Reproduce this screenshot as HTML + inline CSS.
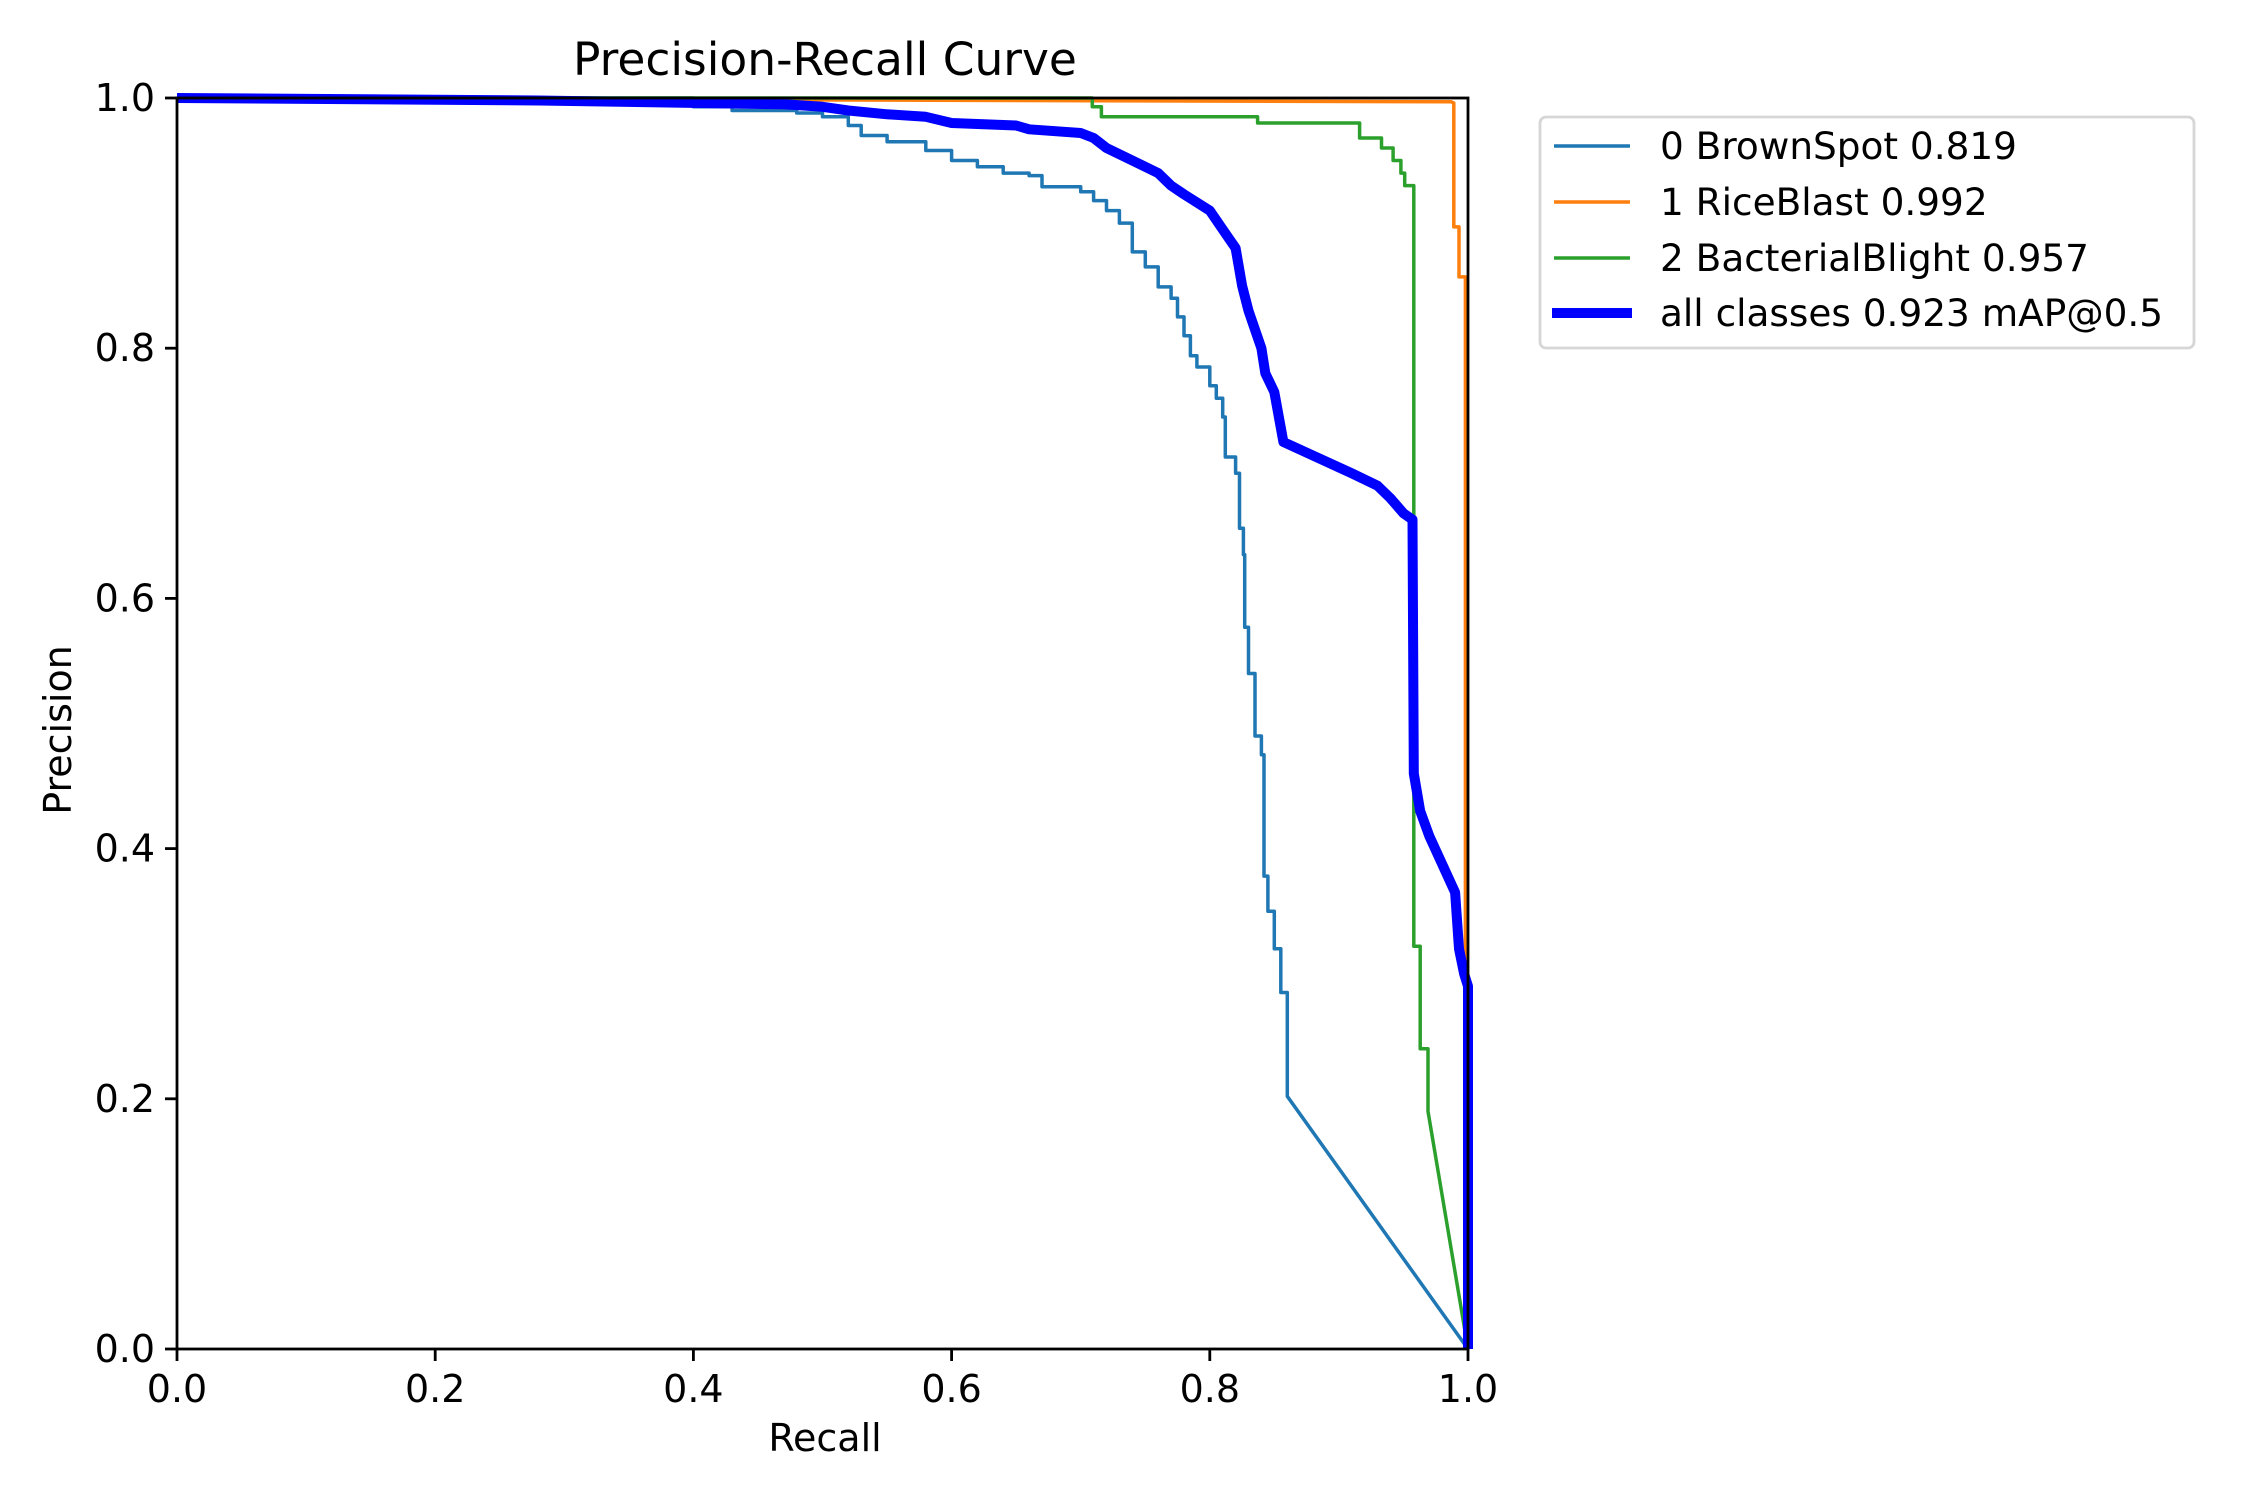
<!DOCTYPE html>
<html><head><meta charset="utf-8"><style>
html,body{margin:0;padding:0;background:#fff;}
svg{display:block;font-family:"DejaVu Sans","Liberation Sans",sans-serif;}
</style></head><body>
<svg id="chart" width="2250" height="1500" viewBox="0 0 2250 1500" xmlns="http://www.w3.org/2000/svg">
<rect width="2250" height="1500" fill="#fff"/>
<g id="series"></g>
<g id="axes"></g>
<text x="825" y="75" font-size="45.5" text-anchor="middle">Precision-Recall Curve</text>
<text x="825" y="1451" font-size="38" text-anchor="middle">Recall</text>
<text x="0" y="0" font-size="38" text-anchor="middle" transform="translate(71,730) rotate(-90)">Precision</text>
<g transform="translate(-8,0)">
<rect x="1548" y="117" width="654" height="231" rx="6" fill="#fff" stroke="#d6d6d6" stroke-width="2.8"/>
<g><line x1="1562" y1="146" x2="1638" y2="146" stroke="#1f77b4" stroke-width="3.5"/><text x="1668" y="159" font-size="37.4">0 BrownSpot 0.819</text></g>
<g><line x1="1562" y1="202" x2="1638" y2="202" stroke="#ff7f0e" stroke-width="3.5"/><text x="1668" y="215" font-size="37.4">1 RiceBlast 0.992</text></g>
<g><line x1="1562" y1="258" x2="1638" y2="258" stroke="#2ca02c" stroke-width="3.5"/><text x="1668" y="271" font-size="37.4">2 BacterialBlight 0.957</text></g>
<g><line x1="1560" y1="313" x2="1640" y2="313" stroke="#0000ff" stroke-width="10"/><text x="1668" y="326" font-size="37.4">all classes 0.923 mAP@0.5</text></g>
</g>
</svg>
<script>
const xTicks = [0.0, 0.2, 0.4, 0.6, 0.8, 1.0];
const yTicks = [0.0, 0.2, 0.4, 0.6, 0.8, 1.0];
const brownRecall = [0,0.4,0.4,0.43,0.43,0.48,0.48,0.5,0.5,0.52,0.52,0.53,0.53,0.55,0.55,0.58,0.58,0.6,0.6,0.62,0.62,0.64,0.64,0.66,0.66,0.67,0.67,0.7,0.7,0.71,0.71,0.72,0.72,0.73,0.73,0.74,0.74,0.75,0.75,0.76,0.76,0.77,0.77,0.775,0.775,0.78,0.78,0.785,0.785,0.79,0.79,0.80,0.80,0.805,0.805,0.81,0.81,0.812,0.812,0.82,0.82,0.823,0.823,0.826,0.826,0.827,0.827,0.83,0.83,0.835,0.835,0.84,0.84,0.842,0.842,0.845,0.845,0.85,0.85,0.855,0.855,0.86,0.86,1.0];
const brownPrecision = [1,1,0.993,0.993,0.99,0.99,0.988,0.988,0.985,0.985,0.978,0.978,0.97,0.97,0.965,0.965,0.958,0.958,0.95,0.95,0.945,0.945,0.94,0.94,0.938,0.938,0.929,0.929,0.925,0.925,0.918,0.918,0.91,0.91,0.9,0.9,0.877,0.877,0.865,0.865,0.849,0.849,0.84,0.84,0.825,0.825,0.81,0.81,0.794,0.794,0.785,0.785,0.77,0.77,0.76,0.76,0.745,0.745,0.713,0.713,0.70,0.70,0.656,0.656,0.635,0.635,0.577,0.577,0.54,0.54,0.49,0.49,0.475,0.475,0.378,0.378,0.35,0.35,0.32,0.32,0.285,0.285,0.202,0.0];
const riceRecall = [0,0.987,0.989,0.989,0.993,0.993,0.998,0.998,1.0];
const ricePrecision = [1,0.997,0.996,0.897,0.897,0.857,0.857,0.3,0.0];
const blightRecall = [0,0.709,0.709,0.716,0.716,0.837,0.837,0.916,0.916,0.933,0.933,0.942,0.942,0.948,0.948,0.951,0.951,0.958,0.958,0.963,0.963,0.969,0.969,1.0];
const blightPrecision = [1,1,0.993,0.993,0.985,0.985,0.98,0.98,0.968,0.968,0.96,0.96,0.95,0.95,0.94,0.94,0.93,0.93,0.322,0.322,0.24,0.24,0.19,0.0];
const allRecall = [0,0.28,0.47,0.5,0.52,0.55,0.58,0.6,0.65,0.66,0.7,0.71,0.72,0.74,0.76,0.77,0.78,0.8,0.81,0.82,0.825,0.83,0.84,0.843,0.85,0.857,0.91,0.93,0.94,0.95,0.957,0.958,0.963,0.97,0.99,0.993,0.997,1.0,1.0];
const allPrecision = [1,0.998,0.995,0.993,0.99,0.987,0.985,0.98,0.978,0.975,0.972,0.968,0.96,0.95,0.94,0.93,0.923,0.91,0.895,0.88,0.85,0.83,0.80,0.78,0.765,0.725,0.70,0.69,0.68,0.668,0.663,0.46,0.43,0.41,0.365,0.32,0.30,0.29,0.0];

const L=177, R=1468, T=98, B=1349;
const sx = v => L + v*(R-L);
const sy = v => B - v*(B-T);
const NS='http://www.w3.org/2000/svg';
function mk(tag, parent){const e=document.createElementNS(NS,tag);parent.appendChild(e);return e;}
const series=document.getElementById('series');
function drawSeries(xs, ys, color, w, name){
  const p=mk('polyline',series);
  p.setAttribute('points', xs.map((x,i)=>sx(x).toFixed(1)+','+sy(ys[i]).toFixed(1)).join(' '));
  p.setAttribute('fill','none');p.setAttribute('stroke',color);p.setAttribute('stroke-width',w);
  p.setAttribute('stroke-linejoin','round');
  
  
}
drawSeries(brownRecall, brownPrecision, '#1f77b4', 3.5, 'brownspot-curve');
drawSeries(riceRecall, ricePrecision, '#ff7f0e', 3.5, 'riceblast-curve');
drawSeries(blightRecall, blightPrecision, '#2ca02c', 3.5, 'bacterialblight-curve');
drawSeries(allRecall, allPrecision, '#0000ff', 10, 'all-classes-curve');

const axes=document.getElementById('axes');
const frame=mk('rect',axes);
frame.setAttribute('x',L);frame.setAttribute('y',T);frame.setAttribute('width',R-L);frame.setAttribute('height',B-T);
frame.setAttribute('fill','none');frame.setAttribute('stroke','#000');frame.setAttribute('stroke-width','2.8');


xTicks.forEach(t=>{
  const l=mk('line',axes);
  l.setAttribute('x1',sx(t));l.setAttribute('x2',sx(t));l.setAttribute('y1',B);l.setAttribute('y2',B+12);
  l.setAttribute('stroke','#000');l.setAttribute('stroke-width','2.8');
  
  
  const tx=mk('text',axes);
  tx.setAttribute('x',sx(t));tx.setAttribute('y',B+53);tx.setAttribute('font-size','38');tx.setAttribute('text-anchor','middle');
  tx.textContent=t.toFixed(1);
  
  
});
yTicks.forEach(t=>{
  const l=mk('line',axes);
  l.setAttribute('x1',L-12);l.setAttribute('x2',L);l.setAttribute('y1',sy(t));l.setAttribute('y2',sy(t));
  l.setAttribute('stroke','#000');l.setAttribute('stroke-width','2.8');
  
  
  const tx=mk('text',axes);
  tx.setAttribute('x',L-22);tx.setAttribute('y',sy(t)+13);tx.setAttribute('font-size','38');tx.setAttribute('text-anchor','end');
  tx.textContent=t.toFixed(1);
  
  
});
</script>
</body></html>
